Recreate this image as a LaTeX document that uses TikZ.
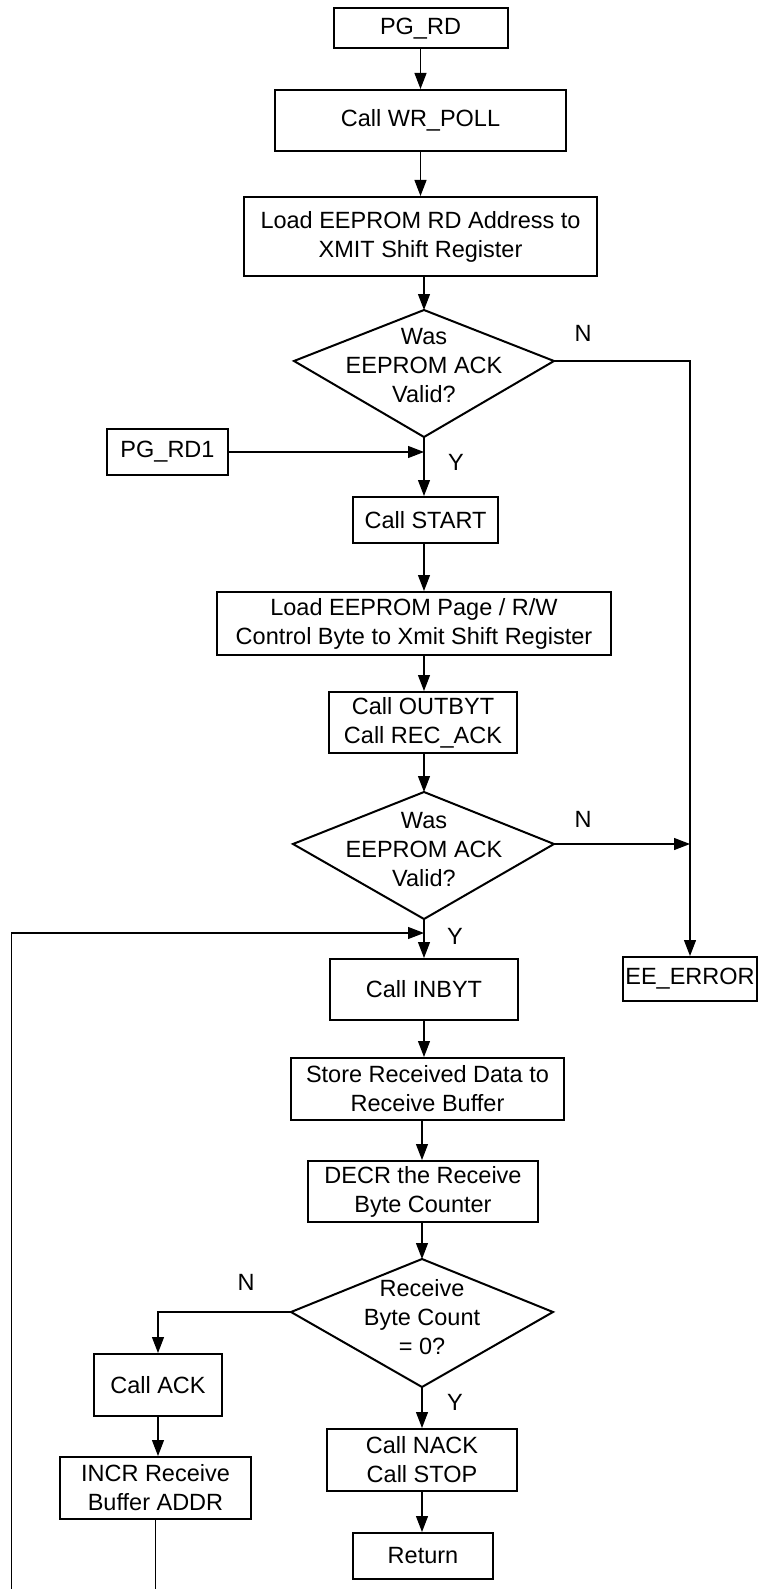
\documentclass[tikz,border=0pt]{standalone}
\usepackage{fontspec}
\setmainfont{Liberation Sans}
\usetikzlibrary{arrows.meta}

\tikzset{
  txt/.style={font=\fontsize{23.5}{29}\selectfont, align=center, inner sep=0pt},
  box/.style={txt, draw, line width=2pt},
  kite/.style={draw, line width=2pt, line join=miter},
  conn/.style={line width=1.2pt},
  arr/.style={conn, -{Triangle[length=16pt,width=12pt]}},
  lbl/.style={txt}
}

\begin{document}
\begin{tikzpicture}[x=1pt, y=-1pt]
\useasboundingbox (0,0) rectangle (760,1589);

% process boxes
\node[box, minimum width=174pt, minimum height=40pt] (pgrd)   at (420.5,28.5)  {PG\_RD};
\node[box, minimum width=291pt, minimum height=61pt] (wrpoll) at (420.5,120.5) {Call WR\_POLL};
\node[box, minimum width=353pt, minimum height=79pt] (loadrd) at (420.5,236.5) {Load EEPROM RD Address to\\XMIT Shift Register};
\node[box, minimum width=121pt, minimum height=46pt] (pgrd1)  at (167.5,452)   {PG\_RD1};
\node[box, minimum width=145pt, minimum height=46pt] (start)  at (425.5,520)   {Call START};
\node[box, minimum width=394pt, minimum height=63pt] (loadpg) at (414,623.5)   {Load EEPROM Page / R/W\\Control Byte to Xmit Shift Register};
\node[box, minimum width=188pt, minimum height=61pt] (outbyt) at (423,722.5)   {Call OUTBYT\\Call REC\_ACK};
\node[box, minimum width=188pt, minimum height=61pt] (inbyt)  at (424,989.5)   {Call INBYT};
\node[box, minimum width=134pt, minimum height=44pt] (eeerr)  at (690,979)     {EE\_ERROR};
\node[box, minimum width=273pt, minimum height=62pt] (store)  at (427.5,1089)  {Store Received Data to\\Receive Buffer};
\node[box, minimum width=230pt, minimum height=61pt] (decr)   at (423,1191.5)  {DECR the Receive\\Byte Counter};
\node[box, minimum width=128pt, minimum height=62pt] (ack)    at (158,1385)    {Call ACK};
\node[box, minimum width=191pt, minimum height=62pt] (incr)   at (155.5,1488)  {INCR Receive\\Buffer ADDR};
\node[box, minimum width=190pt, minimum height=62pt] (nack)   at (422,1460)    {Call NACK\\Call STOP};
\node[box, minimum width=140pt, minimum height=46pt] (ret)    at (423,1556)    {Return};

% decision kites
\coordinate (d1t) at (424,310);  \coordinate (d1l) at (294,361);
\coordinate (d1r) at (554,361);  \coordinate (d1b) at (424,437);
\draw[kite] (d1t) -- (d1r) -- (d1b) -- (d1l) -- cycle;
\node[txt] (d1txt) at (424,366) {Was\\EEPROM ACK\\Valid?};

\coordinate (d2t) at (424,792);  \coordinate (d2l) at (293,844);
\coordinate (d2r) at (554,844);  \coordinate (d2b) at (424,919);
\draw[kite] (d2t) -- (d2r) -- (d2b) -- (d2l) -- cycle;
\node[txt] (d2txt) at (424,850) {Was\\EEPROM ACK\\Valid?};

\coordinate (d3t) at (422,1259); \coordinate (d3l) at (291,1312);
\coordinate (d3r) at (553,1312); \coordinate (d3b) at (422,1387);
\draw[kite] (d3t) -- (d3r) -- (d3b) -- (d3l) -- cycle;
\node[txt] (d3txt) at (422,1317) {Receive\\Byte Count\\= 0?};

% branch labels
\node[lbl] (n1) at (583,333)  {N};
\node[lbl] (y1) at (456,462)  {Y};
\node[lbl] (n2) at (583,819)  {N};
\node[lbl] (y2) at (455,936)  {Y};
\node[lbl] (n3) at (246,1282) {N};
\node[lbl] (y3) at (455,1402) {Y};

% free ends and joins
\coordinate (loopbot) at (11.5,1589);
\coordinate (loopin)  at (424,933);
\coordinate (incrout) at (155.5,1589);

% connectors
\draw[arr] (pgrd.south) -- (pgrd.south |- wrpoll.north);
\draw[arr] (wrpoll.south) -- (wrpoll.south |- loadrd.north);
\draw[arr] (d1t |- loadrd.south) -- (d1t);
\draw[arr] (d1r) -- (d1r -| eeerr.north) -- (eeerr.north);
\draw[arr] (pgrd1.east) -- (pgrd1.east -| d1b);
\draw[arr] (d1b) -- (d1b |- start.north);
\draw[arr] (d1b |- start.south) -- (d1b |- loadpg.north);
\draw[arr] (d1b |- loadpg.south) -- (d1b |- outbyt.north);
\draw[arr] (d2t |- outbyt.south) -- (d2t);
\draw[arr] (d2r) -- (d2r -| eeerr.north);
\draw[arr] (d2b) -- (d2b |- inbyt.north);
\draw[arr] (loopbot) |- (loopin);
\draw[arr] (d2b |- inbyt.south) -- (d2b |- store.north);
\draw[arr] (d3t |- store.south) -- (d3t |- decr.north);
\draw[arr] (d3t |- decr.south) -- (d3t);
\draw[arr] (d3l) -| (ack.north);
\draw[arr] (ack.south) -- (ack.south |- incr.north);
\draw[conn] (incr.south) -- (incrout);
\draw[arr] (d3b) -- (d3b |- nack.north);
\draw[arr] (d3b |- nack.south) -- (d3b |- ret.north);
\end{tikzpicture}
\end{document}
